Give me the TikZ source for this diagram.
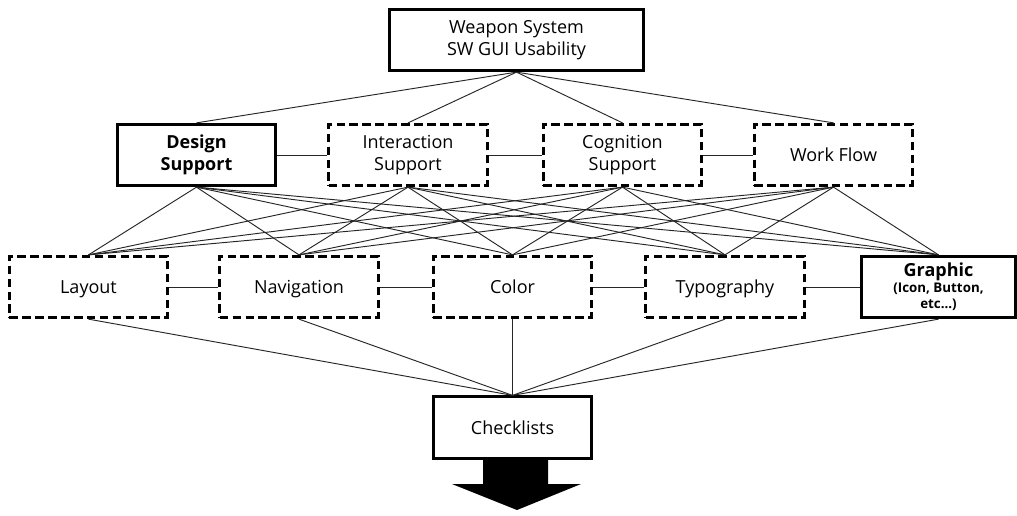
\documentclass[tikz,border=0pt]{standalone}
\usepackage{fontspec}
\setmainfont{Open Sans}
\begin{document}
\begin{tikzpicture}[x=0.75pt,y=-0.75pt,
  solidbox/.style={draw=black, line width=2.2pt, fill=white, minimum width=119pt, minimum height=46pt, align=center, inner sep=0pt, font=\fontsize{13.5}{16.5}\selectfont},
  dashbox/.style={solidbox, dash pattern=on 6.5pt off 3.2pt},
  oneline/.style={text height=1.15em, text depth=0.15em},
  conn/.style={draw=black!85, line width=0.7pt}]
\useasboundingbox (0,0) rectangle (1017,515);
\fill[white] (0,0) rectangle (1017,515);
% nodes
\node[solidbox, minimum width=190pt] (top) at (516.5,40) {Weapon System\\SW GUI Usability};
\node[solidbox, font=\fontsize{13.5}{16.5}\selectfont\bfseries] (ds) at (196.5,155) {Design\\Support};
\node[dashbox] (is) at (408,155) {Interaction\\Support};
\node[dashbox] (cs) at (622.5,155) {Cognition\\Support};
\node[dashbox, oneline] (wf) at (833.5,155) {Work Flow};
\node[dashbox, oneline] (lay) at (88.5,287) {Layout};
\node[dashbox, oneline] (nav) at (299,287) {Navigation};
\node[dashbox, oneline] (col) at (512.5,287) {Color};
\node[dashbox, oneline] (typ) at (725,287) {Typography};
\node[solidbox, minimum width=116pt, font=\bfseries\fontsize{10}{12}\selectfont] (gra) at (938.5,287) {\fontsize{13.5}{15}\selectfont Graphic\\(Icon, Button,\\etc...)};
\node[solidbox, oneline] (chk) at (512.5,427.5) {Checklists};
% connectors
\foreach \b in {ds,is,cs,wf}{\draw[conn] (top.south) -- (\b.north);}
\draw[conn] (ds.east) -- (is.west);
\draw[conn] (is.east) -- (cs.west);
\draw[conn] (cs.east) -- (wf.west);
\foreach \a in {ds,is,cs,wf}{
  \foreach \b in {lay,nav,col,typ,gra}{\draw[conn] (\a.south) -- (\b.north);}}
\draw[conn] (lay.east) -- (nav.west);
\draw[conn] (nav.east) -- (col.west);
\draw[conn] (col.east) -- (typ.west);
\draw[conn] (typ.east) -- (gra.west);
\foreach \b in {lay,nav,col,typ,gra}{\draw[conn] (\b.south) -- (chk.north);}
% big arrow
\fill[black] (483,458) -- (548,458) -- (548,484) -- (581,484) -- (517,510) -- (452,484) -- (483,484) -- cycle;
\end{tikzpicture}
\end{document}
